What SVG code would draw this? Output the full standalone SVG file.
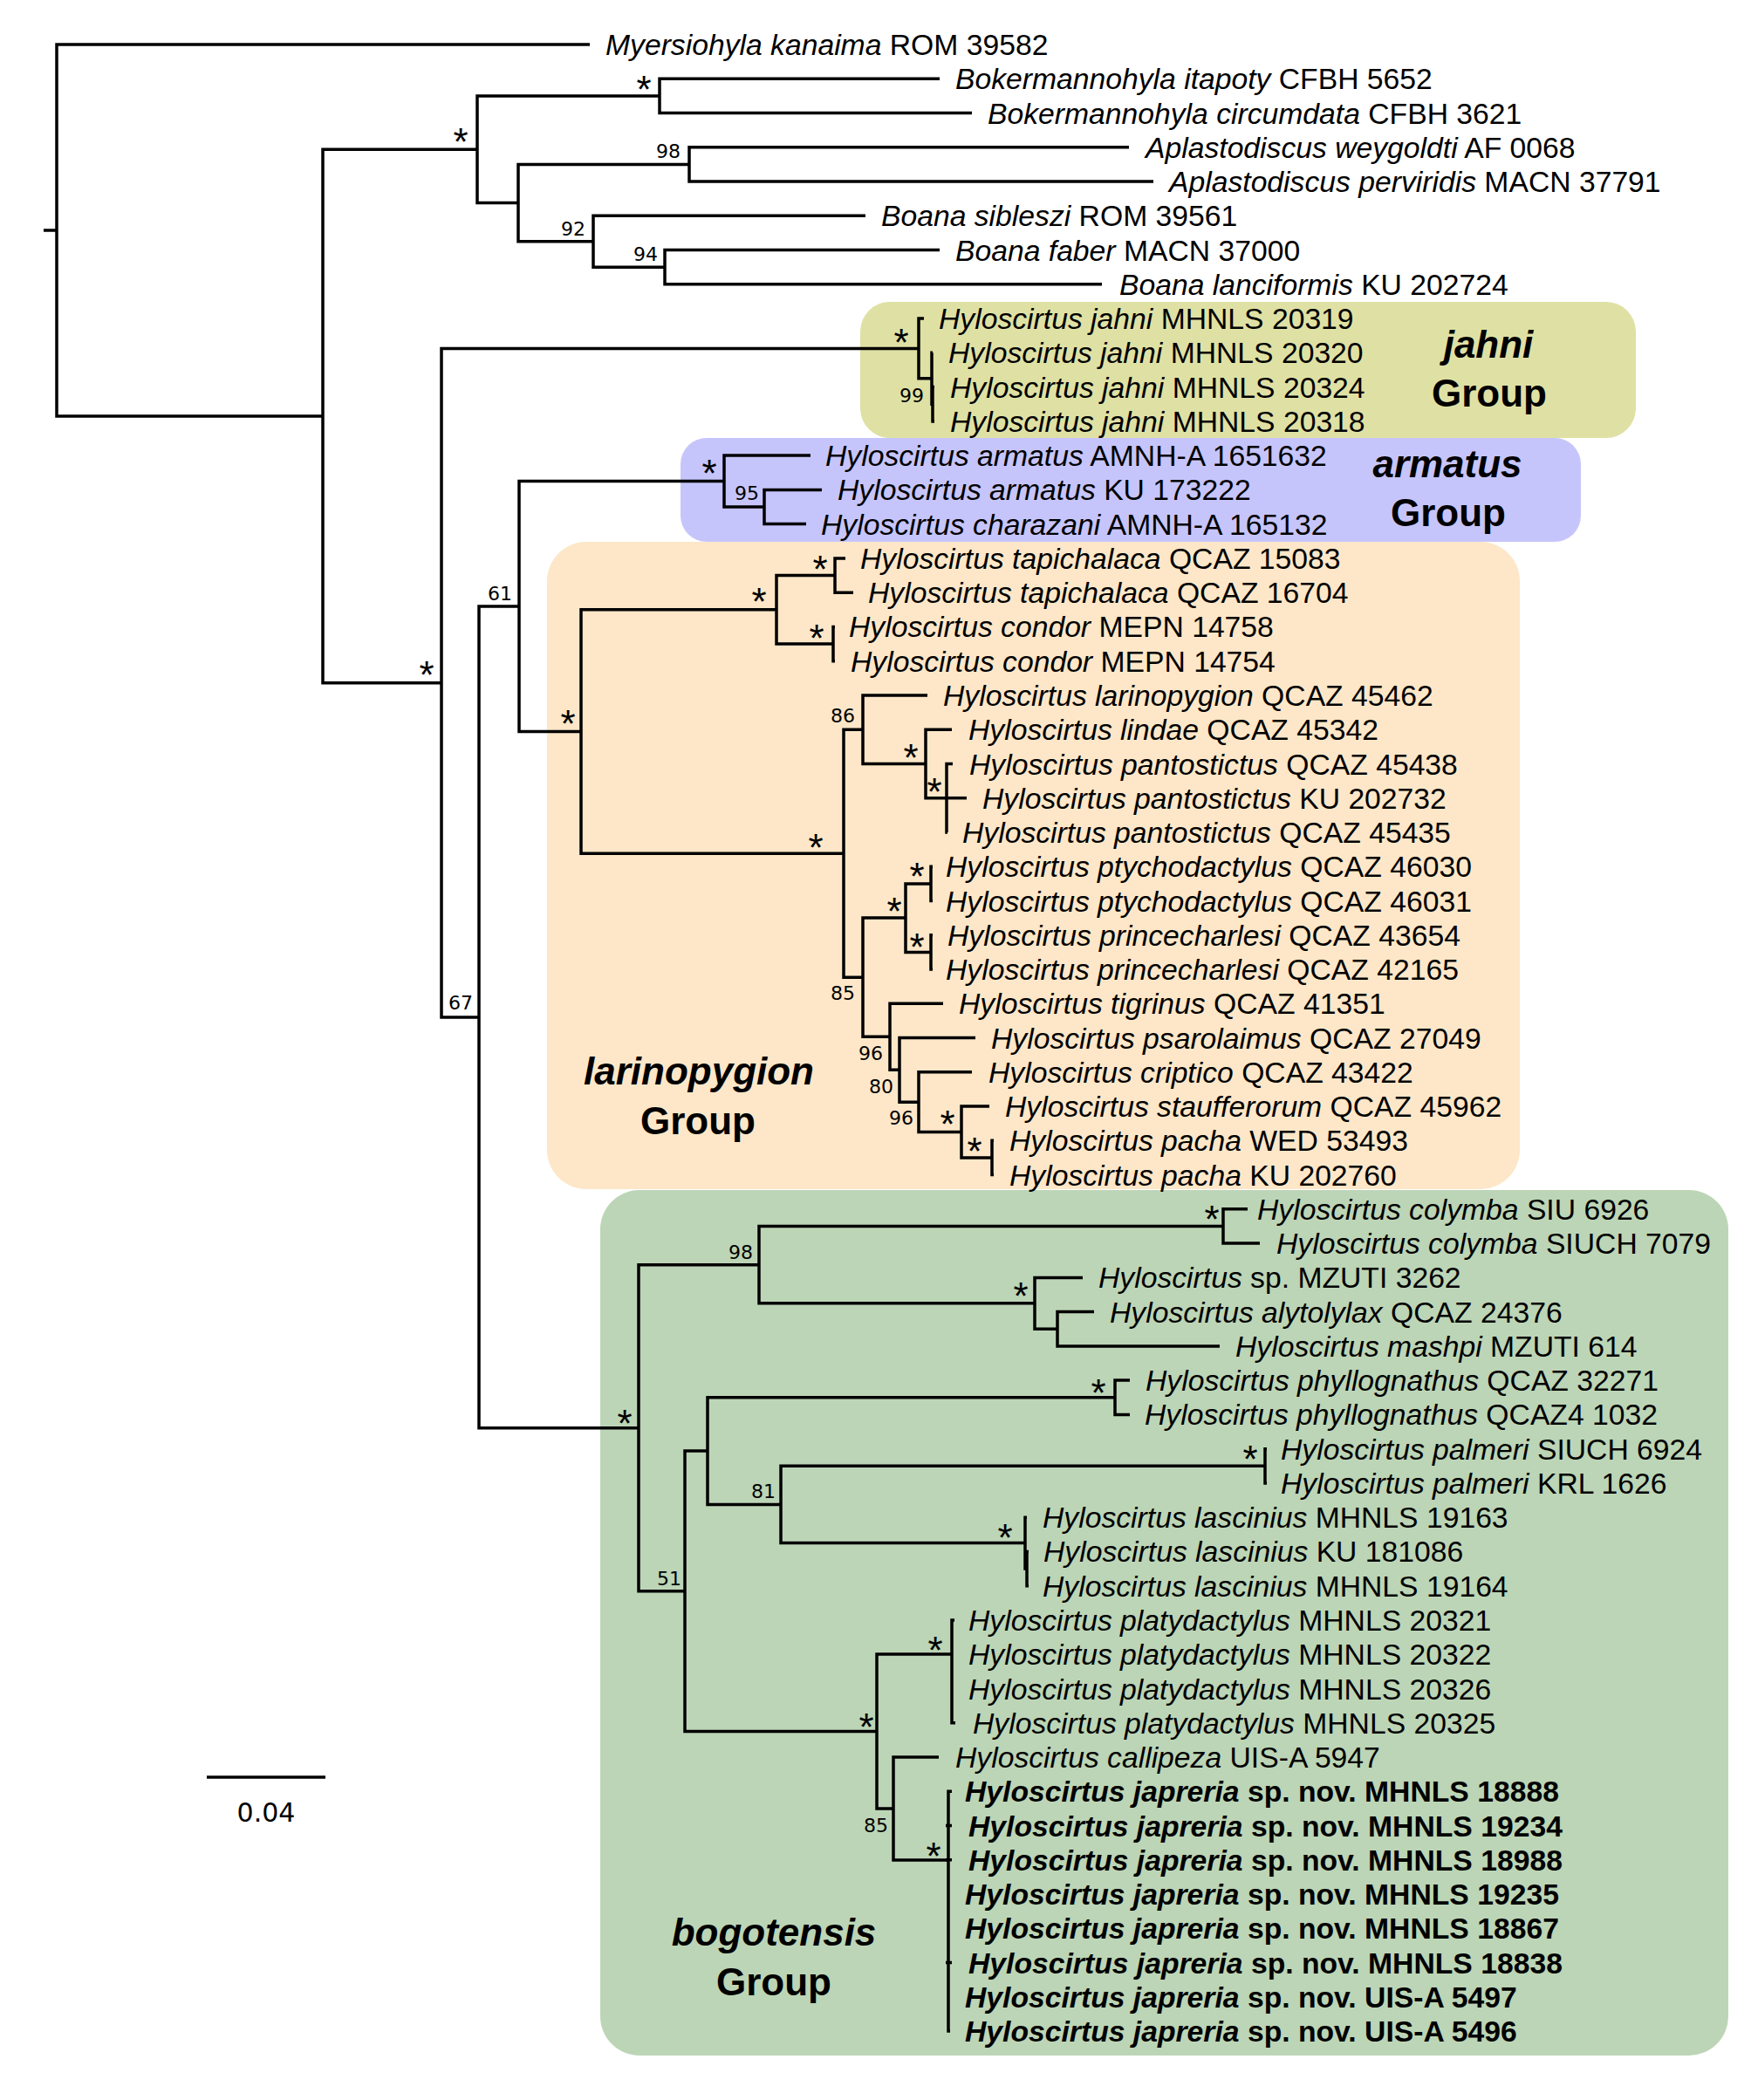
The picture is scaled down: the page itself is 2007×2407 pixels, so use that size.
<svg xmlns="http://www.w3.org/2000/svg" width="2007" height="2407" viewBox="0 0 2007 2407">
<style>
.b{fill:none;stroke:#000;stroke-width:3.5;stroke-linejoin:miter;stroke-linecap:butt}
.t{font-family:"Liberation Sans",Arial,sans-serif;font-size:33.7px;fill:#000}
.i{font-style:italic}
.bd{font-weight:bold}
.s{font-family:"DejaVu Sans",Verdana,sans-serif;font-size:22px;text-anchor:end;fill:#000}
.a{font-family:"Liberation Sans",Arial,sans-serif;font-size:44px;text-anchor:middle;fill:#000}
.g{font-family:"Liberation Sans",Arial,sans-serif;font-size:44px;font-weight:bold;text-anchor:middle;fill:#000}
</style>
<rect width="2007" height="2407" fill="#fff"/>
<g id="group-jahni"><rect x="986" y="346" width="889" height="156" rx="34" fill="#dfe1a4"/><text class="g" x="1706" y="410" font-style="italic">jahni</text><text class="g" x="1707" y="466">Group</text></g>
<g id="group-armatus"><rect x="780" y="502" width="1032" height="119" rx="30" fill="#c6c5fb"/><text class="g" x="1659" y="547" font-style="italic">armatus</text><text class="g" x="1660" y="603">Group</text></g>
<g id="group-larinopygion"><rect x="627" y="621" width="1115" height="742" rx="45" fill="#fde7c8"/><text class="g" x="801" y="1243" font-style="italic">larinopygion</text><text class="g" x="800" y="1300">Group</text></g>
<g id="group-bogotensis"><rect x="688" y="1364" width="1293" height="992" rx="45" fill="#bcd5b6"/><text class="g" x="887" y="2230" font-style="italic">bogotensis</text><text class="g" x="887" y="2287">Group</text></g>
<g id="branches">
<path class="b" d="M50,264H65"/>
<path class="b" d="M676,51H65V477H370"/>
<path class="b" d="M547,171.3H370V782.7H506"/>
<path class="b" d="M756,109.9H547V232.6H594"/>
<path class="b" d="M1077,90.3H756V129.5H1114"/>
<path class="b" d="M790,188.4H594V276.8H680"/>
<path class="b" d="M1294,168.8H790V208H1322"/>
<path class="b" d="M992,247.3H680V306.2H762"/>
<path class="b" d="M1077,286.6H762V325.8H1263"/>
<path class="b" d="M1053,399.4H506V1165.9H549"/>
<path class="b" d="M1059,365.1H1053V433.8H1068"/>
<path class="b" d="M1069,404.3H1068V463.3H1069"/>
<path class="b" d="M1071,443.6H1069V482.9H1071"/>
<path class="b" d="M595,695H549V1636.8H732"/>
<path class="b" d="M830,551.6H595V838.5H666"/>
<path class="b" d="M929,522.1H830V581H876"/>
<path class="b" d="M942,561.4H876V600.6H924"/>
<path class="b" d="M890,698.8H666V978.2H967"/>
<path class="b" d="M957,659.5H890V738H955"/>
<path class="b" d="M969,639.9H957V679.2H978"/>
<path class="b" d="M957,718.4H955V757.7H957"/>
<path class="b" d="M989,836.2H967V1120.2H989"/>
<path class="b" d="M1063,796.9H989V875.5H1061"/>
<path class="b" d="M1091,836.2H1061V914.7H1085"/>
<path class="b" d="M1092,875.5H1085V954H1086"/>
<path class="b" d="M1085,914.7H1108"/>
<path class="b" d="M1038,1052.1H989V1188.3H1020"/>
<path class="b" d="M1067,1012.9H1038V1091.4H1067"/>
<path class="b" d="M1069,993.2H1067V1032.5H1069"/>
<path class="b" d="M1069,1071.8H1067V1111H1069"/>
<path class="b" d="M1081,1150.3H1020V1226.3H1031"/>
<path class="b" d="M1118,1189.5H1031V1263.2H1053"/>
<path class="b" d="M1114,1228.8H1053V1297.5H1102"/>
<path class="b" d="M1134,1268.1H1102V1327H1137"/>
<path class="b" d="M1139,1307.3H1137V1346.6H1139"/>
<path class="b" d="M870,1449.7H732V1823.8H785"/>
<path class="b" d="M1402,1405.5H870V1493.8H1186"/>
<path class="b" d="M1430,1385.8H1402V1425.1H1444"/>
<path class="b" d="M1241,1464.4H1186V1523.2H1212"/>
<path class="b" d="M1254,1503.6H1212V1542.9H1398"/>
<path class="b" d="M811,1663.1H785V1984.5H1005"/>
<path class="b" d="M1278,1601.8H811V1724.5H895"/>
<path class="b" d="M1295,1582.1H1278V1621.4H1295"/>
<path class="b" d="M1450,1680.3H895V1768.6H1175"/>
<path class="b" d="M1452,1660.7H1450V1699.9H1452"/>
<path class="b" d="M1177,1739.2H1175V1798H1177"/>
<path class="b" d="M1179,1778.4H1177V1817.7H1179"/>
<path class="b" d="M1091,1896H1005V2073H1024"/>
<path class="b" d="M1094,1857H1091V1974.7H1095"/>
<path class="b" d="M1076,2014H1024V2132H1087"/>
<path class="b" d="M1091,2053.3H1087V2328.1H1089"/>
<path class="b" d="M1084,2092.5H1091M1084,2131.8H1091M1084,2249.6H1091"/>
</g>
<g id="support">
<text class="a" x="528" y="178">*</text>
<text class="a" x="738" y="118">*</text>
<text class="a" x="1033" y="408">*</text>
<text class="a" x="813" y="558">*</text>
<text class="a" x="870" y="705">*</text>
<text class="a" x="940" y="668">*</text>
<text class="a" x="936" y="747">*</text>
<text class="a" x="651" y="845">*</text>
<text class="a" x="489" y="789">*</text>
<text class="a" x="1044" y="884">*</text>
<text class="a" x="1071" y="923">*</text>
<text class="a" x="935" y="987">*</text>
<text class="a" x="1051" y="1020">*</text>
<text class="a" x="1025" y="1060">*</text>
<text class="a" x="1051" y="1101">*</text>
<text class="a" x="1086" y="1304">*</text>
<text class="a" x="1117" y="1335">*</text>
<text class="a" x="716" y="1647">*</text>
<text class="a" x="1389" y="1413">*</text>
<text class="a" x="1170" y="1501">*</text>
<text class="a" x="1259" y="1612">*</text>
<text class="a" x="1433" y="1688">*</text>
<text class="a" x="1152" y="1778">*</text>
<text class="a" x="1072" y="1907">*</text>
<text class="a" x="993" y="1995">*</text>
<text class="a" x="1070" y="2143">*</text>
<text class="s" x="780" y="181">98</text>
<text class="s" x="671" y="270">92</text>
<text class="s" x="754" y="299">94</text>
<text class="s" x="1059" y="461">99</text>
<text class="s" x="870" y="573">95</text>
<text class="s" x="587" y="688">61</text>
<text class="s" x="542" y="1157">67</text>
<text class="s" x="980" y="828">86</text>
<text class="s" x="980" y="1146">85</text>
<text class="s" x="1012" y="1215">96</text>
<text class="s" x="1024" y="1253">80</text>
<text class="s" x="1047" y="1289">96</text>
<text class="s" x="863" y="1443">98</text>
<text class="s" x="889" y="1717">81</text>
<text class="s" x="781" y="1817">51</text>
<text class="s" x="1018" y="2100">85</text>
</g>
<g id="taxa" class="t">
<g id="tip-0"><text x="694" y="63"><tspan class="i">Myersiohyla kanaima</tspan> ROM 39582</text></g>
<g id="tip-1"><text x="1095" y="102.3"><tspan class="i">Bokermannohyla itapoty</tspan> CFBH 5652</text></g>
<g id="tip-2"><text x="1132" y="141.5"><tspan class="i">Bokermannohyla circumdata</tspan> CFBH 3621</text></g>
<g id="tip-3"><text x="1313" y="180.8"><tspan class="i">Aplastodiscus weygoldti</tspan> AF 0068</text></g>
<g id="tip-4"><text x="1340" y="220"><tspan class="i">Aplastodiscus perviridis</tspan> MACN 37791</text></g>
<g id="tip-5"><text x="1010" y="259.3"><tspan class="i">Boana sibleszi</tspan> ROM 39561</text></g>
<g id="tip-6"><text x="1095" y="298.6"><tspan class="i">Boana faber</tspan> MACN 37000</text></g>
<g id="tip-7"><text x="1283" y="337.8"><tspan class="i">Boana lanciformis</tspan> KU 202724</text></g>
<g id="tip-8"><text x="1076" y="377.1"><tspan class="i">Hyloscirtus jahni</tspan> MHNLS 20319</text></g>
<g id="tip-9"><text x="1087" y="416.3"><tspan class="i">Hyloscirtus jahni</tspan> MHNLS 20320</text></g>
<g id="tip-10"><text x="1089" y="455.6"><tspan class="i">Hyloscirtus jahni</tspan> MHNLS 20324</text></g>
<g id="tip-11"><text x="1089" y="494.9"><tspan class="i">Hyloscirtus jahni</tspan> MHNLS 20318</text></g>
<g id="tip-12"><text x="946" y="534.1"><tspan class="i">Hyloscirtus armatus</tspan> AMNH-A 1651632</text></g>
<g id="tip-13"><text x="960" y="573.4"><tspan class="i">Hyloscirtus armatus</tspan> KU 173222</text></g>
<g id="tip-14"><text x="941" y="612.6"><tspan class="i">Hyloscirtus charazani</tspan> AMNH-A 165132</text></g>
<g id="tip-15"><text x="986" y="651.9"><tspan class="i">Hyloscirtus tapichalaca</tspan> QCAZ 15083</text></g>
<g id="tip-16"><text x="995" y="691.2"><tspan class="i">Hyloscirtus tapichalaca</tspan> QCAZ 16704</text></g>
<g id="tip-17"><text x="973" y="730.4"><tspan class="i">Hyloscirtus condor</tspan> MEPN 14758</text></g>
<g id="tip-18"><text x="975" y="769.7"><tspan class="i">Hyloscirtus condor</tspan> MEPN 14754</text></g>
<g id="tip-19"><text x="1081" y="808.9"><tspan class="i">Hyloscirtus larinopygion</tspan> QCAZ 45462</text></g>
<g id="tip-20"><text x="1110" y="848.2"><tspan class="i">Hyloscirtus lindae</tspan> QCAZ 45342</text></g>
<g id="tip-21"><text x="1111" y="887.5"><tspan class="i">Hyloscirtus pantostictus</tspan> QCAZ 45438</text></g>
<g id="tip-22"><text x="1126" y="926.7"><tspan class="i">Hyloscirtus pantostictus</tspan> KU 202732</text></g>
<g id="tip-23"><text x="1103" y="966"><tspan class="i">Hyloscirtus pantostictus</tspan> QCAZ 45435</text></g>
<g id="tip-24"><text x="1084" y="1005.2"><tspan class="i">Hyloscirtus ptychodactylus</tspan> QCAZ 46030</text></g>
<g id="tip-25"><text x="1084" y="1044.5"><tspan class="i">Hyloscirtus ptychodactylus</tspan> QCAZ 46031</text></g>
<g id="tip-26"><text x="1086" y="1083.8"><tspan class="i">Hyloscirtus princecharlesi</tspan> QCAZ 43654</text></g>
<g id="tip-27"><text x="1084" y="1123"><tspan class="i">Hyloscirtus princecharlesi</tspan> QCAZ 42165</text></g>
<g id="tip-28"><text x="1099" y="1162.3"><tspan class="i">Hyloscirtus tigrinus</tspan> QCAZ 41351</text></g>
<g id="tip-29"><text x="1136" y="1201.5"><tspan class="i">Hyloscirtus psarolaimus</tspan> QCAZ 27049</text></g>
<g id="tip-30"><text x="1133" y="1240.8"><tspan class="i">Hyloscirtus criptico</tspan> QCAZ 43422</text></g>
<g id="tip-31"><text x="1152" y="1280.1"><tspan class="i">Hyloscirtus staufferorum</tspan> QCAZ 45962</text></g>
<g id="tip-32"><text x="1157" y="1319.3"><tspan class="i">Hyloscirtus pacha</tspan> WED 53493</text></g>
<g id="tip-33"><text x="1157" y="1358.6"><tspan class="i">Hyloscirtus pacha</tspan> KU 202760</text></g>
<g id="tip-34"><text x="1441" y="1397.8"><tspan class="i">Hyloscirtus colymba</tspan> SIU 6926</text></g>
<g id="tip-35"><text x="1463" y="1437.1"><tspan class="i">Hyloscirtus colymba</tspan> SIUCH 7079</text></g>
<g id="tip-36"><text x="1259" y="1476.4"><tspan class="i">Hyloscirtus</tspan> sp. MZUTI 3262</text></g>
<g id="tip-37"><text x="1272" y="1515.6"><tspan class="i">Hyloscirtus alytolylax</tspan> QCAZ 24376</text></g>
<g id="tip-38"><text x="1416" y="1554.9"><tspan class="i">Hyloscirtus mashpi</tspan> MZUTI 614</text></g>
<g id="tip-39"><text x="1313" y="1594.1"><tspan class="i">Hyloscirtus phyllognathus</tspan> QCAZ 32271</text></g>
<g id="tip-40"><text x="1312" y="1633.4"><tspan class="i">Hyloscirtus phyllognathus</tspan> QCAZ4 1032</text></g>
<g id="tip-41"><text x="1468" y="1672.7"><tspan class="i">Hyloscirtus palmeri</tspan> SIUCH 6924</text></g>
<g id="tip-42"><text x="1468" y="1711.9"><tspan class="i">Hyloscirtus palmeri</tspan> KRL 1626</text></g>
<g id="tip-43"><text x="1195" y="1751.2"><tspan class="i">Hyloscirtus lascinius</tspan> MHNLS 19163</text></g>
<g id="tip-44"><text x="1196" y="1790.4"><tspan class="i">Hyloscirtus lascinius</tspan> KU 181086</text></g>
<g id="tip-45"><text x="1195" y="1829.7"><tspan class="i">Hyloscirtus lascinius</tspan> MHNLS 19164</text></g>
<g id="tip-46"><text x="1110" y="1869"><tspan class="i">Hyloscirtus platydactylus</tspan> MHNLS 20321</text></g>
<g id="tip-47"><text x="1110" y="1908.2"><tspan class="i">Hyloscirtus platydactylus</tspan> MHNLS 20322</text></g>
<g id="tip-48"><text x="1110" y="1947.5"><tspan class="i">Hyloscirtus platydactylus</tspan> MHNLS 20326</text></g>
<g id="tip-49"><text x="1115" y="1986.7"><tspan class="i">Hyloscirtus platydactylus</tspan> MHNLS 20325</text></g>
<g id="tip-50"><text x="1095" y="2026"><tspan class="i">Hyloscirtus callipeza</tspan> UIS-A 5947</text></g>
<g id="tip-51"><text class="bd" x="1106" y="2065.3"><tspan class="i">Hyloscirtus japreria</tspan> sp. nov. MHNLS 18888</text></g>
<g id="tip-52"><text class="bd" x="1110" y="2104.5"><tspan class="i">Hyloscirtus japreria</tspan> sp. nov. MHNLS 19234</text></g>
<g id="tip-53"><text class="bd" x="1110" y="2143.8"><tspan class="i">Hyloscirtus japreria</tspan> sp. nov. MHNLS 18988</text></g>
<g id="tip-54"><text class="bd" x="1106" y="2183"><tspan class="i">Hyloscirtus japreria</tspan> sp. nov. MHNLS 19235</text></g>
<g id="tip-55"><text class="bd" x="1106" y="2222.3"><tspan class="i">Hyloscirtus japreria</tspan> sp. nov. MHNLS 18867</text></g>
<g id="tip-56"><text class="bd" x="1110" y="2261.6"><tspan class="i">Hyloscirtus japreria</tspan> sp. nov. MHNLS 18838</text></g>
<g id="tip-57"><text class="bd" x="1106" y="2300.8"><tspan class="i">Hyloscirtus japreria</tspan> sp. nov. UIS-A 5497</text></g>
<g id="tip-58"><text class="bd" x="1106" y="2340.1"><tspan class="i">Hyloscirtus japreria</tspan> sp. nov. UIS-A 5496</text></g>
</g>
<g id="scale-bar">
<path class="b" d="M237,2037H373" stroke-width="3"/>
<text x="305" y="2088" font-family="'DejaVu Sans',Verdana,sans-serif" font-size="30" text-anchor="middle">0.04</text>
</g>
</svg>
